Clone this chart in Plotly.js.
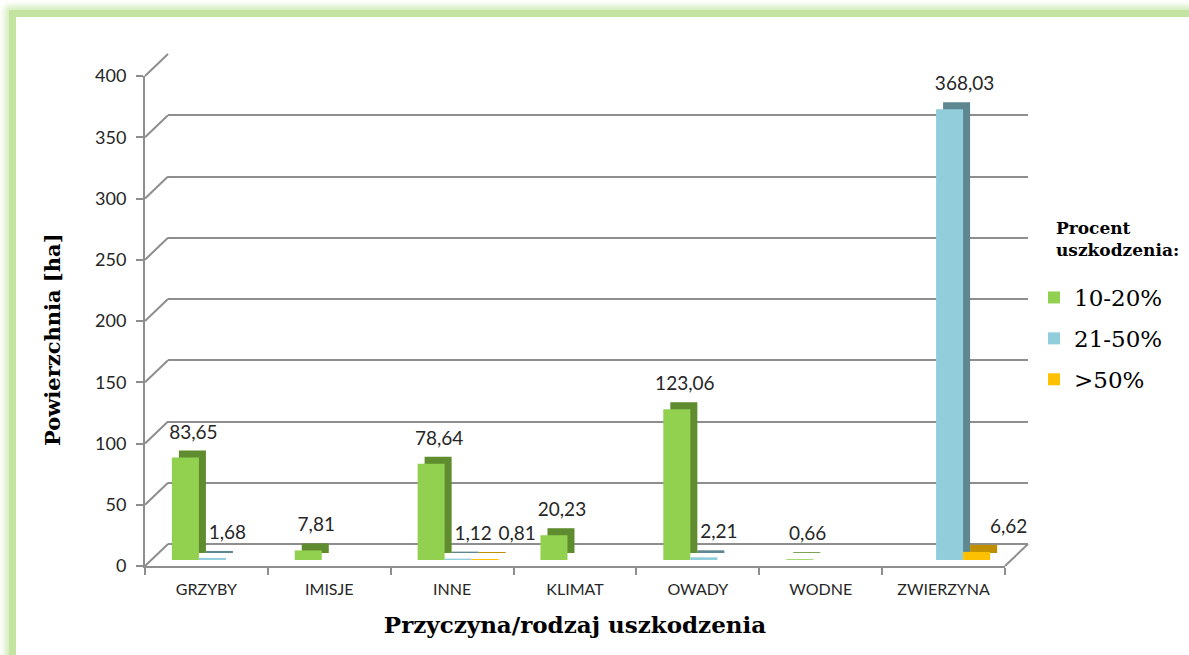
<!DOCTYPE html>
<html>
<head>
<meta charset="utf-8">
<script src="https://cdn.plot.ly/plotly-3.0.1.min.js"></script>
<style>
  html, body { margin: 0; padding: 0; background: #ffffff; }
  #wrap { position: relative; width: 1189px; height: 655px; overflow: hidden; background: #ffffff; }
  #frame { position: absolute; left: 9px; top: 10px; width: 1200px; height: 700px;
           border-left: 7px solid #C2E4A0; border-top: 7px solid #C2E4A0;
           box-shadow: -2px -2px 6px 2px rgba(194,228,160,0.7); background: #ffffff; }
  #chart { position: absolute; left: 0; top: 0; width: 1189px; height: 655px; }
</style>
</head>
<body>
<div id="wrap">
  <div id="frame"></div>
  <div id="chart"></div>
</div>
<script>
// ---- data ----
const categories = ['GRZYBY', 'IMISJE', 'INNE', 'KLIMAT', 'OWADY', 'WODNE', 'ZWIERZYNA'];
const s10_20 = [83.65, 7.81, 78.64, 20.23, 123.06, 0.66, null];
const s21_50 = [1.68, null, 1.12, null, 2.21, null, 368.03];
const s50 = [null, null, 0.81, null, null, null, 6.62];
const seriesNames = ['10-20%', '21-50%', '>50%'];
const yTicks = [0, 50, 100, 150, 200, 250, 300, 350, 400];

// ---- styling ----
const W = 1189, H = 655;
const frontColors = ['#92D050', '#92CDDC', '#FFC000'];
const sideColors = ['#5E8C2E', '#5F8790', '#C08F00'];
const gridColor = '#8E8E8E';
const labelShift = [8, 15, 32];   // horizontal label offset per series (px)

// pixel geometry -> paper domains
function xd(l, r) { return [l / W, r / W]; }
function yd(y0px, y400px) { return [(H - y0px) / H, (H - y400px) / H]; }
const back = { x: xd(168, 1028), y: yd(544, 54) };
const shadow = { x: xd(158, 1018), y: yd(553, 63) };
const bars = { x: xd(151, 1011), y: yd(560, 70) };
const front = { x: xd(145, 1005), y: yd(566, 76) };
const labelY = yd(548, 58);

const allSeries = [s10_20, s21_50, s50];
const traces = [];
const emptyY = categories.map(() => null);
// back wall (empty trace so the subplot exists)
traces.push({ type: 'bar', x: categories, y: emptyY, xaxis: 'x', yaxis: 'y', showlegend: false, hoverinfo: 'skip' });
// shadow (depth) bars
allSeries.forEach((s, i) => {
  traces.push({ type: 'bar', x: categories, y: s, xaxis: 'x2', yaxis: 'y2',
    marker: { color: sideColors[i], line: { width: 0 } }, showlegend: false, hoverinfo: 'skip' });
});
// front bars
allSeries.forEach((s, i) => {
  traces.push({ type: 'bar', x: categories, y: s, xaxis: 'x3', yaxis: 'y3', name: seriesNames[i],
    legendgroup: 'g' + i, marker: { color: frontColors[i], line: { width: 0 } } });
});
// front axis frame
traces.push({ type: 'bar', x: categories, y: emptyY, xaxis: 'x4', yaxis: 'y4', showlegend: false, hoverinfo: 'skip' });
// value labels: one layer per series (transparent bars carry the text)
allSeries.forEach((_, li) => {
  const ax = 5 + li;
  allSeries.forEach((s, i) => {
    const t = { type: 'bar', x: categories, y: s, xaxis: 'x' + ax, yaxis: 'y' + ax,
      marker: { color: 'rgba(0,0,0,0)', line: { width: 0 } }, showlegend: false, hoverinfo: 'skip' };
    if (i === li) {
      Object.assign(t, { texttemplate: '%{y:.2f}', textposition: 'outside', cliponaxis: false,
        constraintext: 'none', textfont: { family: 'Lato, sans-serif', size: 19, color: '#262626' } });
    }
    traces.push(t);
  });
});

const hiddenX = (dom, anchor) => ({ domain: dom, anchor: anchor, type: 'category', range: [-0.5, 6.5],
  showgrid: false, zeroline: false, showline: false, showticklabels: false, ticks: '' });
const hiddenY = (dom, anchor) => ({ domain: dom, anchor: anchor, range: [0, 400],
  showgrid: false, zeroline: false, showline: false, showticklabels: false, ticks: '' });

// diagonal connectors between front axis and back wall
const shapes = [];
function py(domain, v) { return domain[0] + (domain[1] - domain[0]) * v / 400; }
yTicks.forEach(v => {
  shapes.push({ type: 'line', xref: 'paper', yref: 'paper',
    x0: front.x[0], y0: py(front.y, v), x1: back.x[0], y1: py(back.y, v),
    line: { color: gridColor, width: 2 } });
});
shapes.push({ type: 'line', xref: 'paper', yref: 'paper',
  x0: front.x[1], y0: front.y[0], x1: back.x[1], y1: back.y[0],
  line: { color: gridColor, width: 2 } });

const layout = {
  width: W, height: H, autosize: false,
  margin: { l: 0, r: 0, t: 0, b: 0 },
  paper_bgcolor: 'rgba(0,0,0,0)', plot_bgcolor: 'rgba(0,0,0,0)',
  separators: ', ',
  barmode: 'group', bargap: 0.34, bargroupgap: 0,
  xaxis: hiddenX(back.x, 'y'),
  yaxis: Object.assign(hiddenY(back.y, 'x'), { showgrid: true, gridcolor: gridColor, gridwidth: 2,
    tickvals: yTicks, zeroline: true, zerolinecolor: gridColor, zerolinewidth: 2 }),
  xaxis2: hiddenX(shadow.x, 'y2'),
  yaxis2: hiddenY(shadow.y, 'x2'),
  xaxis3: hiddenX(bars.x, 'y3'),
  yaxis3: hiddenY(bars.y, 'x3'),
  xaxis4: { domain: front.x, anchor: 'y4', type: 'category', range: [-0.5, 6.5],
    showgrid: false, zeroline: false, showline: true, linecolor: gridColor, linewidth: 2,
    ticks: 'outside', tickson: 'boundaries', ticklen: 7, tickcolor: gridColor, tickwidth: 2,
    ticklabelstandoff: 8,
    tickfont: { family: 'Lato, sans-serif', size: 16, color: '#262626' },
    title: { text: 'Przyczyna/rodzaj uszkodzenia', standoff: 20,
      font: { family: 'DejaVu Serif, serif', size: 23, color: '#000000', weight: 'bold' } } },
  yaxis4: { domain: front.y, anchor: 'x4', range: [0, 400], tickvals: yTicks,
    showgrid: false, zeroline: false, showline: true, linecolor: gridColor, linewidth: 2,
    ticks: 'outside', ticklen: 7, tickcolor: gridColor, tickwidth: 2, ticklabelstandoff: 6,
    tickfont: { family: 'Lato, sans-serif', size: 18, color: '#262626' } },
  showlegend: true,
  legend: { x: 1034 / W, xanchor: 'left', y: (H - 276) / H, yanchor: 'top',
    bgcolor: 'rgba(0,0,0,0)', traceorder: 'grouped', tracegroupgap: 8,
    font: { family: 'DejaVu Serif, serif', size: 23, color: '#000000' } },
  annotations: [
    { text: 'Powierzchnia [ha]', xref: 'paper', yref: 'paper', x: 52 / W, y: (H - 340) / H,
      textangle: -90, showarrow: false, xanchor: 'center', yanchor: 'middle',
      font: { family: 'DejaVu Serif, serif', size: 21, color: '#000000', weight: 'bold' } },
    { text: 'Procent<br>uszkodzenia:', xref: 'paper', yref: 'paper', x: 1054 / W, y: (H - 216) / H,
      showarrow: false, xanchor: 'left', yanchor: 'top', align: 'left',
      font: { family: 'DejaVu Serif, serif', size: 17, color: '#000000', weight: 'bold' } }
  ],
  shapes: shapes
};
[5, 6, 7].forEach((ax, li) => {
  layout['xaxis' + ax] = hiddenX(xd(151 + labelShift[li], 1011 + labelShift[li]), 'y' + ax);
  layout['yaxis' + ax] = hiddenY(labelY, 'x' + ax);
});

Plotly.newPlot('chart', traces, layout, { displayModeBar: false, staticPlot: true });
</script>
</body>
</html>
